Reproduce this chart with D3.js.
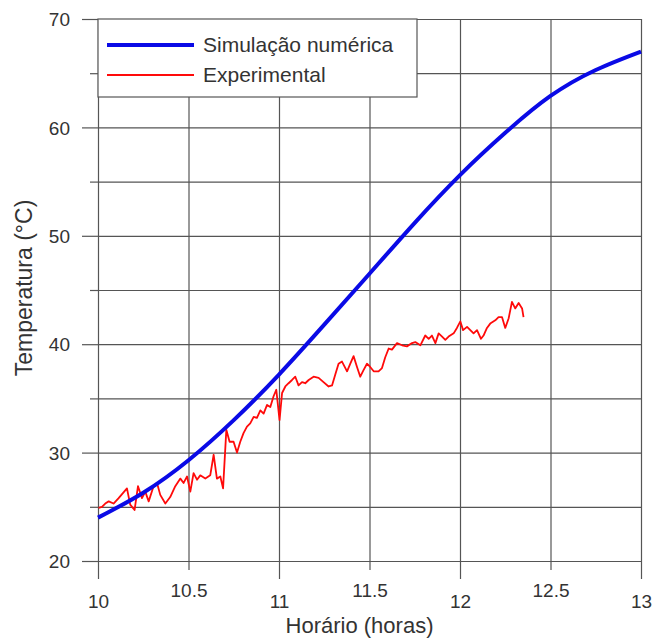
<!DOCTYPE html>
<html lang="pt">
<head>
<meta charset="utf-8">
<title>Temperatura</title>
<script src="https://d3js.org/d3.v7.min.js"></script>
<style>
  body { margin: 0; background: #fff; }
  text { font-family: "Liberation Sans", Arial, sans-serif; fill: #333; }
  .grid line { stroke: #555; stroke-width: 1.2; }
  .grid .domain { display: none; }
  .axis .domain { display: none; }
  .axis line { stroke: #555; stroke-width: 1.2; }
</style>
</head>
<body>
<svg width="654" height="641"></svg>
<script>

// simulation curve (hours, degC)
var simTime = [10, 10.25, 10.5, 10.75, 11, 11.25, 11.5, 11.75, 12, 12.25, 12.5, 12.75, 13];
var simTemp = [24.0, 26.3, 29.3, 33.0, 37.2, 41.8, 46.5, 51.2, 55.6, 59.5, 62.9, 65.3, 67.0];

// experimental readings
var expTime = [10.003, 10.022, 10.040, 10.059, 10.086, 10.114, 10.160, 10.178, 10.202, 10.221,
  10.243, 10.261, 10.280, 10.307, 10.326, 10.344, 10.372, 10.399, 10.427, 10.455,
  10.473, 10.492, 10.510, 10.528, 10.547, 10.565, 10.593, 10.620, 10.639, 10.657,
  10.676, 10.691, 10.709, 10.727, 10.749, 10.768, 10.786, 10.804, 10.823, 10.841,
  10.860, 10.878, 10.897, 10.915, 10.934, 10.952, 10.970, 10.985, 11.003, 11.017,
  11.035, 11.053, 11.072, 11.090, 11.108, 11.127, 11.145, 11.164, 11.191, 11.219,
  11.246, 11.274, 11.293, 11.311, 11.329, 11.348, 11.376, 11.394, 11.412, 11.431,
  11.449, 11.467, 11.486, 11.504, 11.523, 11.550, 11.569, 11.587, 11.606, 11.624,
  11.652, 11.680, 11.707, 11.735, 11.753, 11.781, 11.808, 11.827, 11.845, 11.864,
  11.882, 11.901, 11.919, 11.937, 11.965, 11.983, 12.002, 12.017, 12.039, 12.057,
  12.075, 12.094, 12.116, 12.130, 12.149, 12.167, 12.195, 12.213, 12.232, 12.250,
  12.269, 12.287, 12.305, 12.324, 12.343, 12.351];
var expTemp = [24.9, 25.0, 25.3, 25.5, 25.3, 25.8, 26.7, 25.2, 24.7, 26.9,
  25.8, 26.4, 25.5, 26.9, 27.2, 26.1, 25.3, 25.9, 26.9, 27.6,
  27.2, 27.8, 26.4, 28.1, 27.5, 27.9, 27.6, 27.9, 29.8, 27.6,
  27.8, 26.7, 32.1, 31.0, 31.0, 30.0, 31.0, 31.8, 32.4, 32.7,
  33.3, 33.2, 33.9, 33.6, 34.4, 34.2, 35.2, 35.8, 33.0, 35.5,
  36.1, 36.4, 36.7, 37.0, 36.2, 36.5, 36.4, 36.7, 37.0, 36.9,
  36.5, 36.1, 36.2, 37.2, 38.2, 38.4, 37.5, 38.2, 38.9, 37.9,
  37.0, 37.6, 38.2, 37.9, 37.5, 37.5, 37.8, 38.8, 39.6, 39.5,
  40.1, 39.9, 39.8, 40.1, 40.2, 39.9, 40.8, 40.5, 40.8, 40.1,
  41.0, 40.7, 40.4, 40.7, 41.0, 41.5, 42.1, 41.3, 41.6, 41.3,
  41.0, 41.3, 40.5, 40.8, 41.5, 41.9, 42.2, 42.5, 42.5, 41.5,
  42.4, 43.9, 43.3, 43.8, 43.3, 42.5];

var xMajor = [10, 11, 12, 13];
var xMinor = [10.5, 11.5, 12.5];
var yMajor = [20, 30, 40, 50, 60, 70];
var yMinor = [25, 35, 45, 55, 65];

var seriesNames = ["Simulação numérica", "Experimental"];

var svg = d3.select("svg"),
    margin = {top: 19, right: 13, bottom: 80, left: 98},
    w = +svg.attr("width") - margin.left - margin.right,
    h = +svg.attr("height") - margin.top - margin.bottom;

var x = d3.scaleLinear().domain([10, 13]).range([0, w]),
    y = d3.scaleLinear().domain([20, 70]).range([h, 0]);

var g = svg.append("g")
    .attr("transform", "translate(" + margin.left + "," + margin.top + ")");

// grid
g.append("g")
    .attr("class", "grid")
    .attr("transform", "translate(0," + h + ")")
    .call(d3.axisBottom(x).tickValues(xMajor.concat(xMinor)).tickSize(-h).tickFormat(""));
g.append("g")
    .attr("class", "grid")
    .call(d3.axisLeft(y).tickValues(yMajor.concat(yMinor)).tickSize(-w).tickFormat(""));

// x axis: long ticks with low labels, short ticks with high labels
var xa = g.append("g")
    .attr("class", "axis")
    .attr("transform", "translate(0," + h + ")")
    .call(d3.axisBottom(x).tickValues(xMajor).tickSize(18).tickFormat(d3.format("d")));
xa.selectAll("text").attr("y", 47).attr("dy", null).style("font-size", "19px");

var xb = g.append("g")
    .attr("class", "axis")
    .attr("transform", "translate(0," + h + ")")
    .call(d3.axisBottom(x).tickValues(xMinor).tickSize(9).tickFormat(d3.format(".1f")));
xb.selectAll("text").attr("y", 36).attr("dy", null).style("font-size", "19px");

// y axis
var ya = g.append("g")
    .attr("class", "axis")
    .call(d3.axisLeft(y).tickValues(yMajor).tickSize(16).tickPadding(12));
ya.selectAll("text").attr("dy", "0.35em").style("font-size", "19px");

g.append("g")
    .attr("class", "axis")
    .call(d3.axisLeft(y).tickValues(yMinor).tickSize(8).tickFormat(""));

// lines
var simData = simTime.map(function(t, i) { return [t, simTemp[i]]; });
var expData = expTime.map(function(t, i) { return [t, expTemp[i]]; });

var line = d3.line()
    .x(function(d) { return x(d[0]); })
    .y(function(d) { return y(d[1]); });

g.append("path")
    .datum(expData)
    .attr("fill", "none")
    .attr("stroke", "#ff0a0a")
    .attr("stroke-width", 1.8)
    .attr("stroke-linejoin", "round")
    .attr("d", line);

g.append("path")
    .datum(simData)
    .attr("fill", "none")
    .attr("stroke", "#0a0ae6")
    .attr("stroke-width", 4)
    .attr("d", line.curve(d3.curveNatural));

// legend
var lg = g.append("g");
lg.append("rect")
    .attr("x", 0).attr("y", 0)
    .attr("width", 319).attr("height", 78)
    .attr("fill", "#fff")
    .attr("stroke", "#555")
    .attr("stroke-width", 1.2);

var legendStyle = [{color: "#0a0ae6", width: 4}, {color: "#ff0a0a", width: 2}];
seriesNames.forEach(function(name, i) {
  var ly = 26 + i * 30;
  lg.append("line")
      .attr("x1", 9).attr("x2", 96)
      .attr("y1", ly).attr("y2", ly)
      .attr("stroke", legendStyle[i].color)
      .attr("stroke-width", legendStyle[i].width);
  lg.append("text")
      .attr("x", 105).attr("y", ly)
      .attr("dy", "0.35em")
      .style("font-size", "21px")
      .text(name);
});

// axis titles
svg.append("text")
    .attr("x", margin.left + w / 2 - 10)
    .attr("y", 633)
    .attr("text-anchor", "middle")
    .style("font-size", "22px")
    .text("Horário (horas)");

svg.append("text")
    .attr("transform", "translate(32,288) rotate(-90)")
    .attr("text-anchor", "middle")
    .style("font-size", "23px")
    .text("Temperatura (°C)");

</script>
</body>
</html>
